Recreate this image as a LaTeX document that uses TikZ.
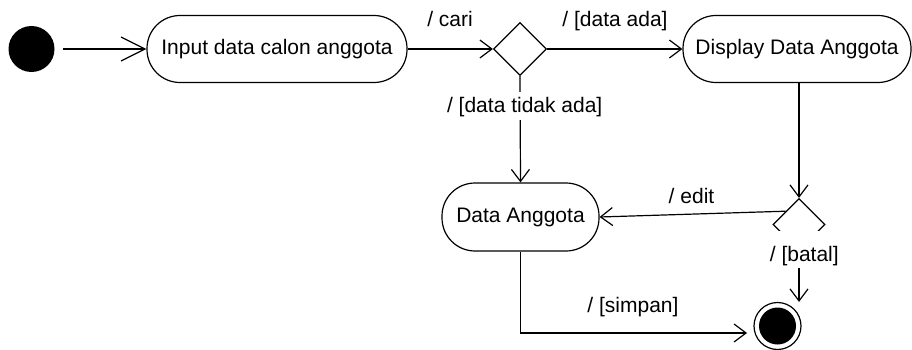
\documentclass[tikz,border=0pt]{standalone}
\usepackage{fontspec}
\setmainfont{Liberation Sans}
\usepackage{tikz}
\usetikzlibrary{shapes.geometric,arrows.meta}

\begin{document}
\begin{tikzpicture}[x=1pt,y=-1pt,line width=1.2pt,
		font=\fontsize{21}{25}\selectfont,
		aktivitas/.style={draw,rounded corners=33pt,minimum height=67pt,inner sep=0pt},
		keputusan/.style={draw,diamond,minimum width=53pt,minimum height=53pt,inner sep=0pt},
		alir/.style={-{Straight Barb[length=12pt,width=18pt]}},
		lbl/.style={anchor=base,inner sep=2pt},
		guard/.style={lbl,fill=white,text height=19pt,text depth=5pt}]
		\useasboundingbox (0,0) rectangle (912,350);

		% keadaan dan aktivitas
		\node[circle,fill=black,minimum size=46pt,inner sep=0pt] (mulai) at (31.5,49) {};
		\node[aktivitas,minimum width=260pt] (input) at (277,49) {Input data calon anggota};
		\node[keputusan] (cek) at (520,49) {};
		\node[aktivitas,minimum width=228pt] (display) at (797,49) {Display Data Anggota};
		\node[aktivitas,minimum width=157pt,minimum height=68pt] (data) at (520.5,217) {Data Anggota};
		\node[keputusan,minimum width=52pt,minimum height=52pt] (pilih) at (799,224.5) {};
		\node[circle,draw,minimum size=47pt,inner sep=0pt] (akhir) at (777.5,326) {};
		\node[circle,fill=black,minimum size=37pt,inner sep=0pt] at (akhir) {};
		\coordinate (ujung) at (747,333);

		\draw[-{Straight Barb[length=24pt,width=24pt]},shorten <=8pt] (mulai) -- (input);
		\draw[alir] (input) -- (cek);
		\draw[alir] (cek) -- (display);
		\draw[alir] (cek.south) -- (data.north);
		\draw[alir] (pilih.north |- display.south) -- (pilih.north);
		\draw[alir] (pilih.north west) -- (data.east);
		\draw[alir] (pilih.south) -- (pilih.south |- akhir.north);
		\draw[alir] (data.south) -- (data.south |- ujung) -- (ujung);

		% guard
		\node[lbl] (lcari) at (450,27) {/ cari};
		\node[lbl] (lada) at (615,27) {/ [data ada]};
		\node[guard] (ltidak) at (524.7,113) {/ [data tidak ada]};
		\node[lbl] (ledit) at (691.5,203) {/ edit};
		\node[guard,text height=28pt] (lbatal) at (804.3,261) {/ [batal]};
		\node[lbl] (lsimpan) at (633,312) {/ [simpan]};
	\end{tikzpicture}
\end{document}
